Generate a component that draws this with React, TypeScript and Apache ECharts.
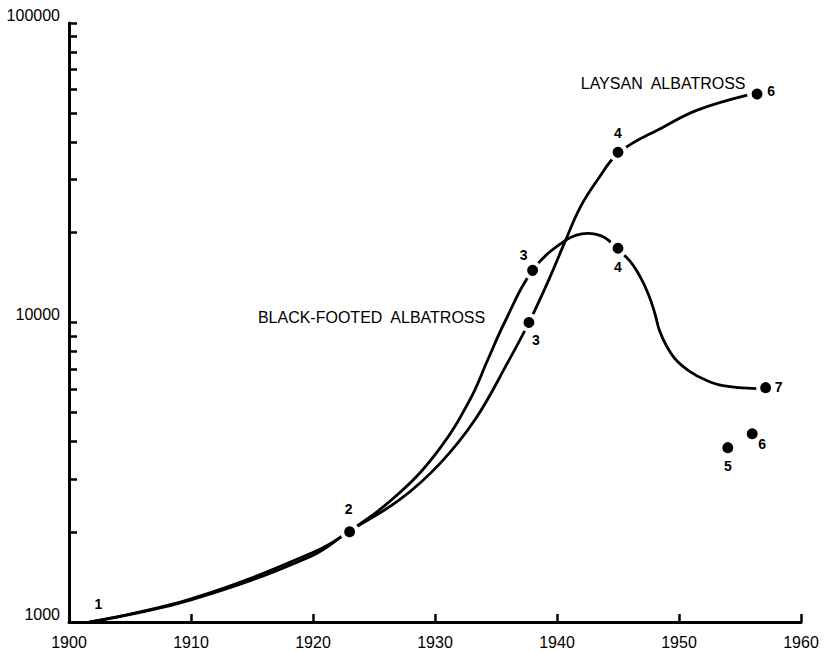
import React, { useEffect, useRef } from "react";
import * as echarts from "echarts";

// ---- data ----
const xTickYears = [1900, 1910, 1920, 1930, 1940, 1950, 1960];
const yLabelValues = [1000, 10000, 100000];
const yTickValues = [
  1000, 2000, 3000, 4000, 5000, 6000, 7000, 8000, 9000,
  10000, 20000, 30000, 40000, 50000, 60000, 70000, 80000, 90000, 100000,
];

const laysanCurveYears = [1901.7, 1910, 1919.9, 1922.9, 1927.1, 1930.4, 1933.3, 1936, 1937.7, 1939.3, 1940.7, 1941.9, 1943.3, 1945.1, 1948.7, 1951.5, 1955.6];
const laysanCurveValues = [1000, 1185, 1663, 2000, 2560, 3380, 4750, 7400, 10000, 13800, 18800, 24250, 29850, 37000, 44900, 51200, 57450];

const blackFootedCurveYears = [1901.7, 1910, 1919.9, 1922.9, 1927.1, 1930.4, 1932.9, 1934.3, 1935.7, 1938, 1940.7, 1942.5, 1943.9, 1944.9, 1946, 1946.8, 1947.5, 1948, 1948.4, 1949, 1949.8, 1950.9, 1952.1, 1953.6, 1956.4];
const blackFootedCurveValues = [1000, 1194, 1700, 2000, 2700, 3800, 5560, 7464, 10000, 14930, 18800, 19850, 19240, 17680, 15995, 14250, 12410, 10800, 9400, 8314, 7464, 6858, 6449, 6157, 6017];

const laysanDotYears = [1923, 1937.7, 1945, 1956.4];
const laysanDotValues = [2000, 10000, 37000, 57900];
const laysanDotLabels = ["2", "3", "4", "6"];

const blackFootedDotYears = [1938, 1945, 1957.1, 1954, 1956];
const blackFootedDotValues = [14930, 17700, 6060, 3820, 4250];
const blackFootedDotLabels = ["3", "4", "7", "5", "6"];

const startYear = 1902;
const startValue = 1000;
const startLabel = "1";

const seriesNames = ["LAYSAN  ALBATROSS", "BLACK-FOOTED  ALBATROSS"];
const seriesNameYears = [1948.7, 1924.8];
const seriesNameValues = [63000, 10390];

// ---- label placement (style) ----
const laysanLabelOffsets = [[-1, -23], [7, 17], [0, -19], [14, -3]];
const blackFootedLabelOffsets = [[-9, -15], [0, 19], [13, -1], [0, 18], [10, 10]];
const startLabelOffset = [5, -18];

const FONT = "'Liberation Sans', 'DejaVu Sans', Arial, sans-serif";
const INK = "#000000";

export default function App() {
  const ref = useRef<HTMLDivElement>(null);

  useEffect(() => {
    if (!ref.current) return;
    const chart = echarts.init(ref.current, undefined, { renderer: "svg" });

    const zip = (xs: number[], ys: number[]) => xs.map((x, i) => [x, ys[i]]);

    const dotItems = (
      xs: number[],
      ys: number[],
      labels: string[],
      offsets: number[][]
    ) =>
      xs.map((x, i) => ({
        value: [x, ys[i]],
        name: labels[i],
        label: { offset: offsets[i] },
      }));

    const dotStyle = {
      type: "scatter" as const,
      symbol: "circle",
      symbolSize: 15,
      itemStyle: { color: INK, borderColor: "#ffffff", borderWidth: 4, opacity: 1 },
      label: {
        show: true,
        position: "inside" as const,
        formatter: (p: any) => p.name,
        color: INK,
        fontFamily: FONT,
        fontSize: 14,
        fontWeight: "bold" as const,
      },
      z: 5,
      silent: true,
    };

    const lineStyle = {
      type: "line" as const,
      showSymbol: false,
      smooth: 0.4,
      lineStyle: { color: INK, width: 2.8 },
      z: 2,
      silent: true,
    };

    const option: any = {
      animation: false,
      backgroundColor: "#ffffff",
      grid: { left: 69, right: 25, top: 23, bottom: 30, containLabel: false },
      xAxis: {
        type: "value",
        min: 1900,
        max: 1960,
        interval: 10,
        splitLine: { show: false },
        axisLine: { show: true, lineStyle: { color: INK, width: 3 } },
        axisTick: {
          show: true,
          inside: true,
          length: 8,
          lineStyle: { color: INK, width: 2.5 },
          customValues: xTickYears,
        },
        axisLabel: {
          show: true,
          margin: 12,
          color: INK,
          fontFamily: FONT,
          fontSize: 16,
          customValues: xTickYears,
          formatter: (v: number) => String(Math.round(v)),
        },
      },
      yAxis: {
        type: "log",
        logBase: 10,
        min: 1000,
        max: 100000,
        splitLine: { show: false },
        axisLine: { show: true, lineStyle: { color: INK, width: 3 } },
        axisTick: {
          show: true,
          inside: true,
          length: 8,
          lineStyle: { color: INK, width: 2.5 },
          customValues: yTickValues,
        },
        axisLabel: {
          show: true,
          margin: 9,
          color: INK,
          fontFamily: FONT,
          fontSize: 16,
          verticalAlign: "bottom",
          customValues: yLabelValues,
          formatter: (v: number) => String(Math.round(v)),
        },
      },
      series: [
        { ...lineStyle, data: zip(laysanCurveYears, laysanCurveValues) },
        { ...lineStyle, data: zip(blackFootedCurveYears, blackFootedCurveValues) },
        {
          ...dotStyle,
          data: dotItems(laysanDotYears, laysanDotValues, laysanDotLabels, laysanLabelOffsets),
        },
        {
          ...dotStyle,
          data: dotItems(blackFootedDotYears, blackFootedDotValues, blackFootedDotLabels, blackFootedLabelOffsets),
        },
        {
          type: "scatter",
          symbolSize: 0,
          silent: true,
          z: 6,
          itemStyle: { opacity: 1 },
          data: [{ value: [startYear, startValue], name: startLabel, label: { offset: startLabelOffset } }],
          label: {
            show: true,
            position: "inside",
            formatter: (p: any) => p.name,
            color: INK,
            fontFamily: FONT,
            fontSize: 14,
            fontWeight: "bold",
          },
        },
        {
          type: "scatter",
          symbolSize: 0,
          silent: true,
          z: 6,
          itemStyle: { opacity: 1 },
          data: seriesNames.map((n, i) => ({ value: [seriesNameYears[i], seriesNameValues[i]], name: n })),
          label: {
            show: true,
            position: "inside",
            formatter: (p: any) => p.name,
            color: INK,
            fontFamily: FONT,
            fontSize: 16,
          },
        },
      ],
    };

    chart.setOption(option);
    return () => chart.dispose();
  }, []);

  return (
    <div
      ref={ref}
      style={{ position: "fixed", left: 0, top: 0, width: 826, height: 652, background: "#fff" }}
    />
  );
}
